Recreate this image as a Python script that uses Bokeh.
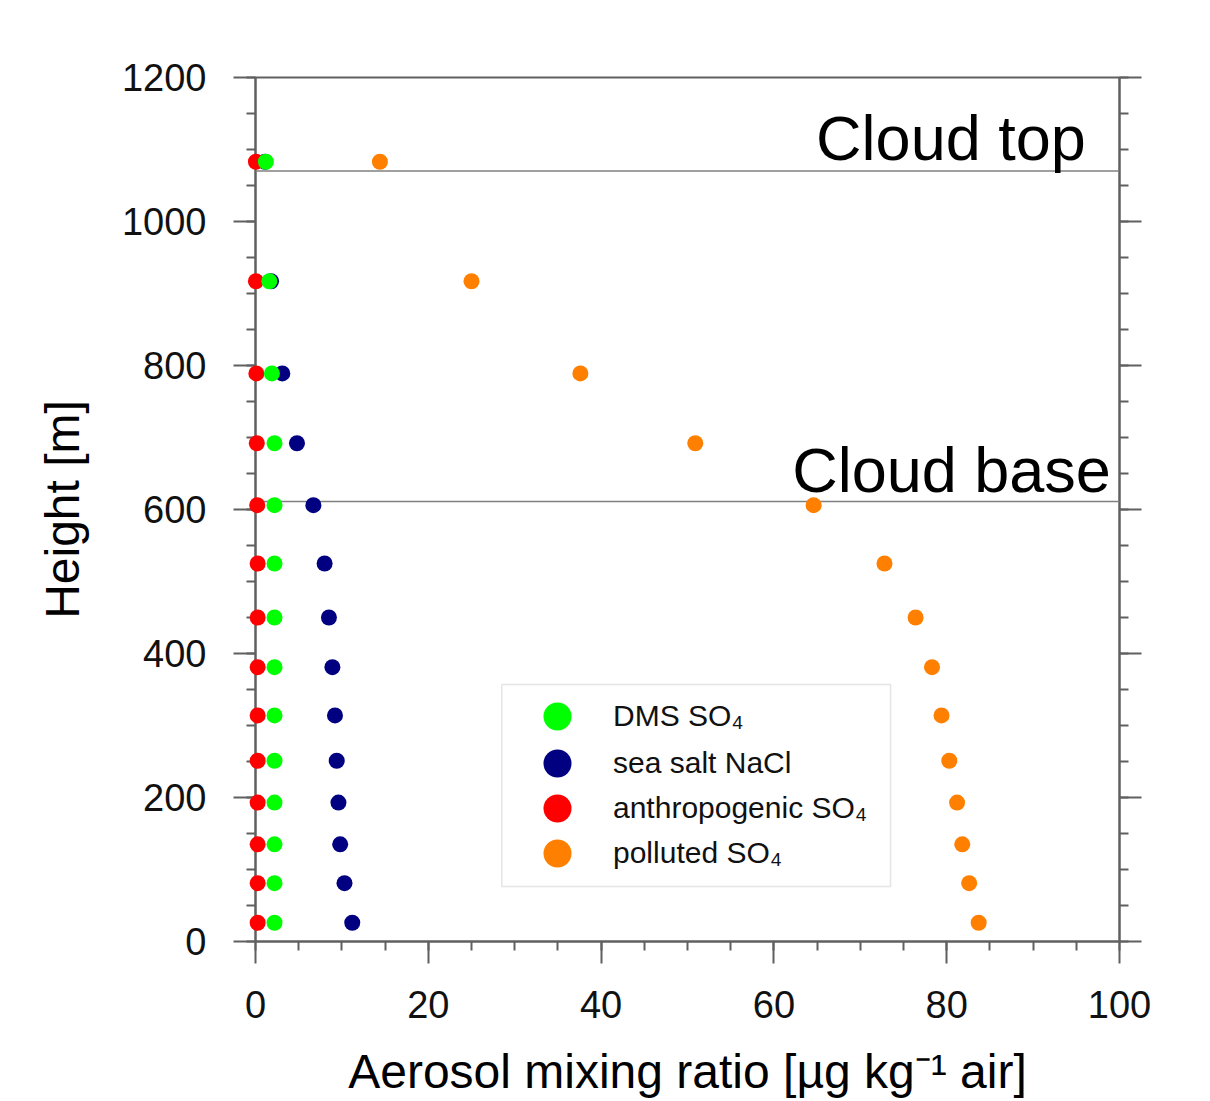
from bokeh.plotting import figure
from bokeh.models import (LinearAxis, SingleIntervalTicker, Span, Label, Legend,
                          LegendItem, BoxAnnotation, CustomJSTickFormatter, Range1d)
from bokeh.embed import file_html
from bokeh.resources import INLINE

# ---------------- data ----------------
height = [1083, 917, 789, 692, 606, 525, 450, 381, 314, 251, 193, 135, 81, 26]
dms_so4 = [1.2, 1.6, 1.9, 2.2, 2.2, 2.2, 2.2, 2.2, 2.2, 2.2, 2.2, 2.2, 2.2, 2.2]
sea_salt = [1.1, 1.8, 3.1, 4.8, 6.7, 8.0, 8.5, 8.9, 9.2, 9.4, 9.6, 9.8, 10.3, 11.2]
anthro_so4 = [0.05, 0.05, 0.1, 0.15, 0.2, 0.25, 0.25, 0.25, 0.25, 0.25, 0.25, 0.25, 0.25, 0.25]
polluted_so4 = [14.4, 25.0, 37.6, 50.9, 64.6, 72.8, 76.4, 78.3, 79.4, 80.3, 81.2, 81.8, 82.6, 83.7]

cloud_top = 1070
cloud_base = 611
series_labels = ["DMS SO\u2084", "sea salt NaCl", "anthropogenic SO\u2084", "polluted SO\u2084"]

FONT = "Liberation Sans"
AX = "#606060"

p = figure(width=1210, height=1101, output_backend="svg", toolbar_location=None,
           x_range=Range1d(0, 100), y_range=Range1d(0, 1200),
           min_border_left=255, min_border_right=91, min_border_top=77, min_border_bottom=160,
           x_axis_label="Aerosol mixing ratio [\u00b5g kg\u207b\u00b9 air]",
           y_axis_label="Height [m]")
p.xgrid.visible = False
p.ygrid.visible = False
p.outline_line_color = AX
p.outline_line_width = 2
p.background_fill_color = "white"
p.border_fill_color = "white"

p.xaxis.ticker = SingleIntervalTicker(interval=20, num_minor_ticks=4)
p.yaxis.ticker = SingleIntervalTicker(interval=200, num_minor_ticks=4)

for ax in (p.xaxis[0], p.yaxis[0]):
    ax.axis_line_color = AX
    ax.axis_line_width = 2
    ax.major_tick_line_color = AX
    ax.major_tick_line_width = 2
    ax.minor_tick_line_color = AX
    ax.minor_tick_line_width = 2
    ax.major_tick_in = 0
    ax.major_tick_out = 22
    ax.minor_tick_in = 0
    ax.minor_tick_out = 9
    ax.major_label_text_font = FONT
    ax.major_label_text_font_size = "38px"
    ax.major_label_text_color = "#111111"
    ax.axis_label_text_font = FONT
    ax.axis_label_text_font_style = "normal"
    ax.axis_label_text_color = "#000000"
    ax.axis_label_text_font_size = "48px"

p.xaxis.major_label_standoff = 27
p.xaxis.axis_label_standoff = 24
p.yaxis.major_label_standoff = 27
p.yaxis.axis_label_standoff = 30

right = LinearAxis(ticker=SingleIntervalTicker(interval=200, num_minor_ticks=4),
                   formatter=CustomJSTickFormatter(code="return ''"))
right.axis_line_color = AX
right.axis_line_width = 2
right.major_tick_line_color = AX
right.major_tick_line_width = 2
right.minor_tick_line_color = AX
right.minor_tick_line_width = 2
right.major_tick_in = 0
right.major_tick_out = 22
right.minor_tick_in = 0
right.minor_tick_out = 9
right.major_label_text_font_size = "1px"
p.add_layout(right, "right")

# cloud lines and labels
p.add_layout(Span(location=cloud_top, dimension="width", line_color="#808080", line_width=1.5))
p.add_layout(Span(location=cloud_base, dimension="width", line_color="#808080", line_width=1.5))
p.add_layout(Label(x=96.1, y=cloud_top, y_offset=33, text="Cloud top", text_align="right",
                   text_baseline="alphabetic", text_font=FONT, text_font_size="63px",
                   text_color="black"))
p.add_layout(Label(x=99.0, y=cloud_base, y_offset=32, text="Cloud base", text_align="right",
                   text_baseline="alphabetic", text_font=FONT, text_font_size="63px",
                   text_color="black"))

# data
S = 16
r_or = p.scatter(polluted_so4, height, size=S, color="#ff8000", line_color=None, level="overlay")
r_bl = p.scatter(sea_salt, height, size=S, color="#000080", line_color=None, level="overlay")
r_rd = p.scatter(anthro_so4, height, size=S, color="#ff0000", line_color=None, level="overlay")
r_gr = p.scatter(dms_so4, height, size=S, color="#00ff00", line_color=None, level="overlay")

# legend frame
p.add_layout(BoxAnnotation(left=28.5, right=73.5, bottom=76.4, top=357,
                           fill_color="white", fill_alpha=1.0,
                           line_color="#aaaaaa", line_width=1.5))

renderers = [r_gr, r_bl, r_rd, r_or]
row_bottoms = [190, 143, 98, 53]
for lab, rend, yb in zip(series_labels, renderers, row_bottoms):
    lg = Legend(items=[LegendItem(label=lab, renderers=[rend])],
                location=(267, yb), glyph_width=70, glyph_height=70,
                padding=0, margin=0, label_standoff=21, label_height=20,
                border_line_color=None, background_fill_alpha=0,
                label_text_font=FONT, label_text_font_size="30px",
                label_text_color="#111111")
    p.add_layout(lg)

open("out.html", "w").write(file_html(p, INLINE))
